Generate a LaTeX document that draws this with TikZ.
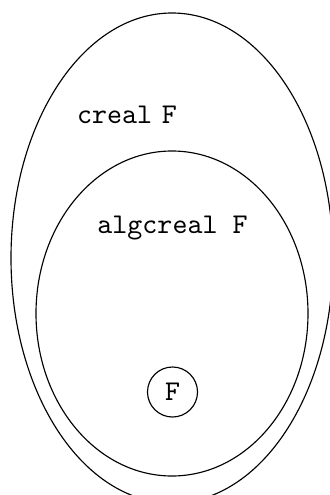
\documentclass[tikz,border=0pt]{standalone}
\begin{document}
\begin{tikzpicture}[x=0.0123cm,y=-0.0123cm]
	\useasboundingbox (0,0) rectangle (330,495);
	\clip (0,0) rectangle (330,495);
	\draw (172,258) ellipse [x radius=161,y radius=245];
	\draw (172,313.5) ellipse [x radius=136,y radius=162.5];
	\node (creal) at (127,115) {\texttt{creal} \texttt{F}};
	\node (algcreal) at (172.5,228) {\texttt{algcreal F}};
	\node[draw,circle,inner sep=0pt,minimum size=0.615cm] (F) at (172.5,392) {\texttt{F}};
\end{tikzpicture}
\end{document}
